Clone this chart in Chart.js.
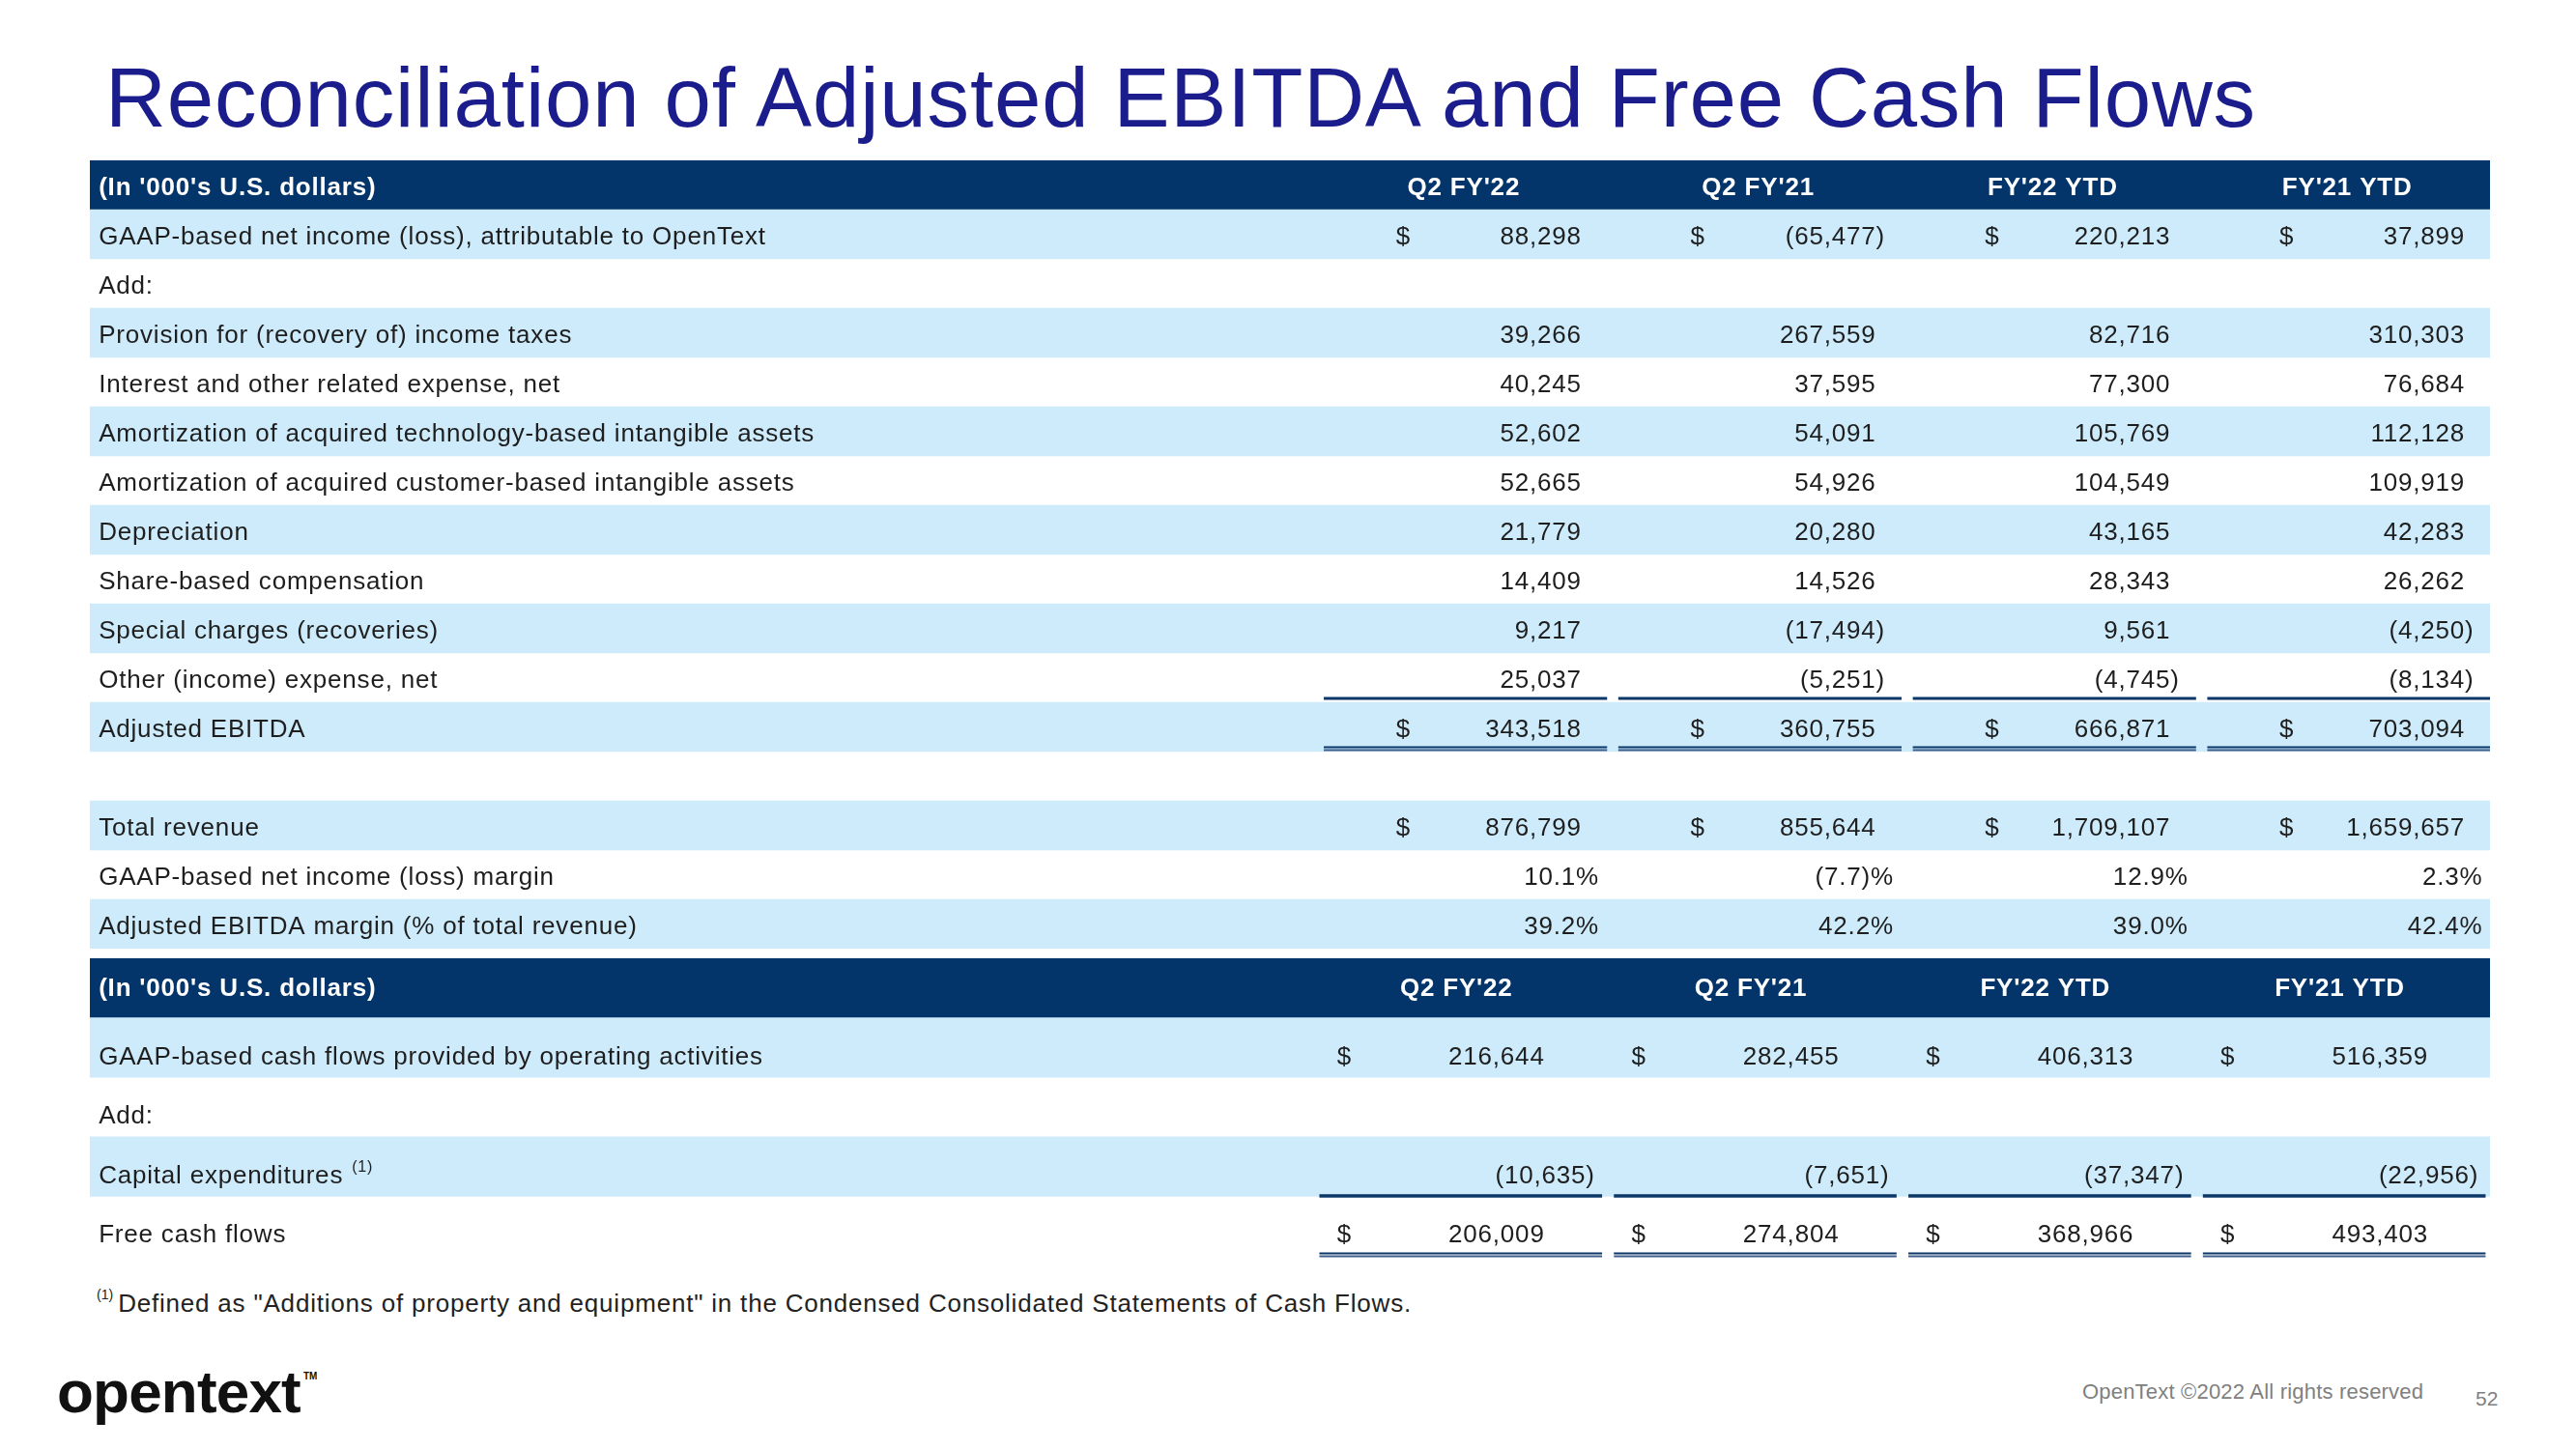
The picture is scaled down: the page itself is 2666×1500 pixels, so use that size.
<!DOCTYPE html>
<html>
<head>
<meta charset="utf-8">
<title>Reconciliation of Adjusted EBITDA and Free Cash Flows</title>
<script src="https://cdn.jsdelivr.net/npm/chart.js@4.4.1/dist/chart.umd.min.js"></script>
<style>
  body { margin: 0; background: #fff; }
  #page { position: relative; width: 2666px; height: 1500px; overflow: hidden;
          font-family: "Liberation Sans", Arial, sans-serif; }
  .abs { position: absolute; white-space: nowrap; line-height: 1; }
  #title { left: 109px; top: 57px; font-size: 87px; color: #1b1d8c; letter-spacing: 0.85px; }
  #table1 { left: 93px; top: 166px; }
  #table2 { left: 93px; top: 992px; }
  #note { left: 100px; top: 1333px; font-size: 26px; color: #222; letter-spacing: 0.8px; }
  #note sup { font-size: 14px; vertical-align: 13px; letter-spacing: 0; margin-right: 5px; }
  #logo { left: 59px; top: 1410px; font-size: 62px; font-weight: bold; color: #111; letter-spacing: -0.8px; }
  #logo span { font-size: 10px; vertical-align: 34px; margin-left: 3px; letter-spacing: 0; }
  #copy { left: 2155px; top: 1430px; font-size: 22px; color: #808080; letter-spacing: 0.2px; }
  #pg { left: 2562px; top: 1437px; font-size: 21px; color: #808080; }
</style>
</head>
<body>
<div id="page">
  <div id="title" class="abs">Reconciliation of Adjusted EBITDA and Free Cash Flows</div>
  <canvas id="table1" class="abs" width="2484" height="816"></canvas>
  <canvas id="table2" class="abs" width="2484" height="312"></canvas>
  <div id="note" class="abs"><sup>(1)</sup>Defined as "Additions of property and equipment" in the Condensed Consolidated Statements of Cash Flows.</div>
  <div id="logo" class="abs">opentext<span>TM</span></div>
  <div id="copy" class="abs">OpenText ©2022 All rights reserved</div>
  <div id="pg" class="abs">52</div>
</div>

<script>
// --- Data ---
const HEADER_LABEL = "(In '000's U.S. dollars)";
const PERIODS = ["Q2 FY'22", "Q2 FY'21", "FY'22 YTD", "FY'21 YTD"];

// Adjusted EBITDA reconciliation
const EBITDA_ROWS = [
  'GAAP-based net income (loss), attributable to OpenText',
  'Add:',
  'Provision for (recovery of) income taxes',
  'Interest and other related expense, net',
  'Amortization of acquired technology-based intangible assets',
  'Amortization of acquired customer-based intangible assets',
  'Depreciation',
  'Share-based compensation',
  'Special charges (recoveries)',
  'Other (income) expense, net',
  'Adjusted EBITDA',
  '',
  'Total revenue',
  'GAAP-based net income (loss) margin',
  'Adjusted EBITDA margin (% of total revenue)',
];
const EBITDA_Q2_FY22  = [88298,  null, 39266,  40245, 52602,  52665,  21779, 14409, 9217,   25037, 343518, null, 876799,  10.1, 39.2];
const EBITDA_Q2_FY21  = [-65477, null, 267559, 37595, 54091,  54926,  20280, 14526, -17494, -5251, 360755, null, 855644,  -7.7, 42.2];
const EBITDA_FY22_YTD = [220213, null, 82716,  77300, 105769, 104549, 43165, 28343, 9561,   -4745, 666871, null, 1709107, 12.9, 39.0];
const EBITDA_FY21_YTD = [37899,  null, 310303, 76684, 112128, 109919, 42283, 26262, -4250,  -8134, 703094, null, 1659657, 2.3,  42.4];
const EBITDA_DOLLAR_ROWS = [0, 10, 12];
const EBITDA_PCT_ROWS = [13, 14];

// Free cash flows
const FCF_ROWS = [
  'GAAP-based cash flows provided by operating activities',
  'Add:',
  'Capital expenditures',
  'Free cash flows',
];
const FCF_Q2_FY22  = [216644, null, -10635, 206009];
const FCF_Q2_FY21  = [282455, null, -7651,  274804];
const FCF_FY22_YTD = [406313, null, -37347, 368966];
const FCF_FY21_YTD = [516359, null, -22956, 493403];
const FCF_DOLLAR_ROWS = [0, 3];
const FCF_NOTE_ROW = 2;   // carries footnote (1)

// --- Styles ---
const FONT = '"Liberation Sans", Arial, sans-serif';
const COLORS = { header: '#03356a', band: '#cdebfb', text: '#1e1e1e', rule: '#0b3768', dbl: '#3c5d89' };

// x axis is in "column units": value column j spans [j, j+1), label column is negative
const T1 = {
  xMin: -4.19, xMax: 3.96, labelX: -4.16, dollarX: 0.27, dollarRight: 0.875, plainRight: 0.875,
  pctRight: 0.935, headerX: 0.475, dyHead: 3, dyBody: 3.5, ruleStart: 0, ruleEnd: 0.962,
  single: { row: 10, off: -4, w: 3 }, dbl: { row: 11, offs: [-4.5, -1.5], w: 1.8 }, padBottom: 0,
};
const T2 = {
  xMin: -4.19, xMax: 3.96, labelX: -4.16, dollarX: 0.07, dollarRight: 0.75, plainRight: 0.89,
  pctRight: 0.935, headerX: 0.45, dyHead: 1, dyBody: 10, ruleStart: -0.015, ruleEnd: 0.945,
  single: { row: 3, off: -0.5, w: 3.5 }, dbl: { row: 4, offs: [-2.5, 0.5], w: 1.8 }, padBottom: 4,
};

// --- Helpers ---
const fmt = v => Math.abs(v).toLocaleString('en-US');

function cellPlugin(rows, cols, dollarRows, pctRows, noteRow, opt) {
  return {
    id: 'cells',
    afterDatasetsDraw(chart) {
      const { ctx } = chart;
      const x = chart.scales.x, y = chart.scales.y;
      const px = v => x.getPixelForValue(v);
      const rowBottom = i => (y.getPixelForValue(i) + y.getPixelForValue(i + 1)) / 2;

      ctx.save();
      ctx.textBaseline = 'middle';
      ctx.letterSpacing = '0.8px';

      // header row
      const hy = y.getPixelForValue(0) + opt.dyHead;
      ctx.fillStyle = '#fff';
      ctx.font = `bold 26px ${FONT}`;
      ctx.textAlign = 'left';
      ctx.fillText(HEADER_LABEL, px(opt.labelX), hy);
      ctx.textAlign = 'center';
      PERIODS.forEach((p, j) => ctx.fillText(p, px(j + opt.headerX), hy));

      // body rows
      ctx.fillStyle = COLORS.text;
      rows.forEach((label, r) => {
        const cy = y.getPixelForValue(r + 1) + opt.dyBody;
        ctx.font = `26px ${FONT}`;
        ctx.textAlign = 'left';
        ctx.fillText(label, px(opt.labelX), cy);
        if (r === noteRow) {
          const w = ctx.measureText(label).width;
          ctx.font = `16px ${FONT}`;
          ctx.fillText('(1)', px(opt.labelX) + w + 9, cy - 9);
          ctx.font = `26px ${FONT}`;
        }
        cols.forEach((col, j) => {
          const v = col[r];
          if (v == null) return;
          if (pctRows.includes(r)) {
            const s = v < 0 ? `(${Math.abs(v).toFixed(1)})%` : `${v.toFixed(1)}%`;
            ctx.textAlign = 'right';
            ctx.fillText(s, px(j + opt.pctRight), cy);
            return;
          }
          const isDollar = dollarRows.includes(r);
          const right = px(j + (isDollar ? opt.dollarRight : opt.plainRight));
          if (isDollar) {
            ctx.textAlign = 'center';
            ctx.fillText('$', px(j + opt.dollarX), cy);
          }
          ctx.textAlign = 'right';
          ctx.fillText(v < 0 ? '(' + fmt(v) : fmt(v), right, cy);
          if (v < 0) {
            ctx.textAlign = 'left';
            ctx.fillText(')', right, cy);
          }
        });
      });

      // underlines under the value columns
      PERIODS.forEach((p, j) => {
        const x0 = px(j + opt.ruleStart), x1 = px(j + opt.ruleEnd);
        ctx.strokeStyle = COLORS.rule;
        ctx.lineWidth = opt.single.w;
        const sy = rowBottom(opt.single.row) + opt.single.off;
        ctx.beginPath(); ctx.moveTo(x0, sy); ctx.lineTo(x1, sy); ctx.stroke();

        ctx.lineWidth = opt.dbl.w;
        opt.dbl.offs.forEach((o, k) => {
          ctx.strokeStyle = k === 0 ? COLORS.rule : COLORS.dbl;
          const dy = rowBottom(opt.dbl.row) + o;
          ctx.beginPath(); ctx.moveTo(x0, dy); ctx.lineTo(x1, dy); ctx.stroke();
        });
      });
      ctx.restore();
    },
  };
}

function buildTable(id, rows, cols, dollarRows, pctRows, noteRow, opt) {
  const labels = [HEADER_LABEL, ...rows];
  const bands = labels.map((_, i) => (i === 0 || i % 2 === 1) ? [opt.xMin, opt.xMax] : null);
  const colors = labels.map((_, i) => i === 0 ? COLORS.header : COLORS.band);

  return new Chart(document.getElementById(id), {
    type: 'bar',
    data: {
      labels,
      datasets: [{
        data: bands,
        backgroundColor: colors,
        borderWidth: 0,
        borderSkipped: false,
        barPercentage: 1,
        categoryPercentage: 1,
      }],
    },
    options: {
      indexAxis: 'y',
      responsive: false,
      animation: false,
      events: [],
      layout: { padding: { top: 0, left: 0, right: 0, bottom: opt.padBottom } },
      plugins: { legend: { display: false }, tooltip: { enabled: false } },
      scales: {
        x: { type: 'linear', min: opt.xMin, max: opt.xMax, display: false },
        y: { type: 'category', offset: true, display: false, grid: { display: false } },
      },
    },
    plugins: [cellPlugin(rows, cols, dollarRows, pctRows, noteRow, opt)],
  });
}

buildTable('table1', EBITDA_ROWS,
  [EBITDA_Q2_FY22, EBITDA_Q2_FY21, EBITDA_FY22_YTD, EBITDA_FY21_YTD],
  EBITDA_DOLLAR_ROWS, EBITDA_PCT_ROWS, -1, T1);

buildTable('table2', FCF_ROWS,
  [FCF_Q2_FY22, FCF_Q2_FY21, FCF_FY22_YTD, FCF_FY21_YTD],
  FCF_DOLLAR_ROWS, [], FCF_NOTE_ROW, T2);
</script>
</body>
</html>
